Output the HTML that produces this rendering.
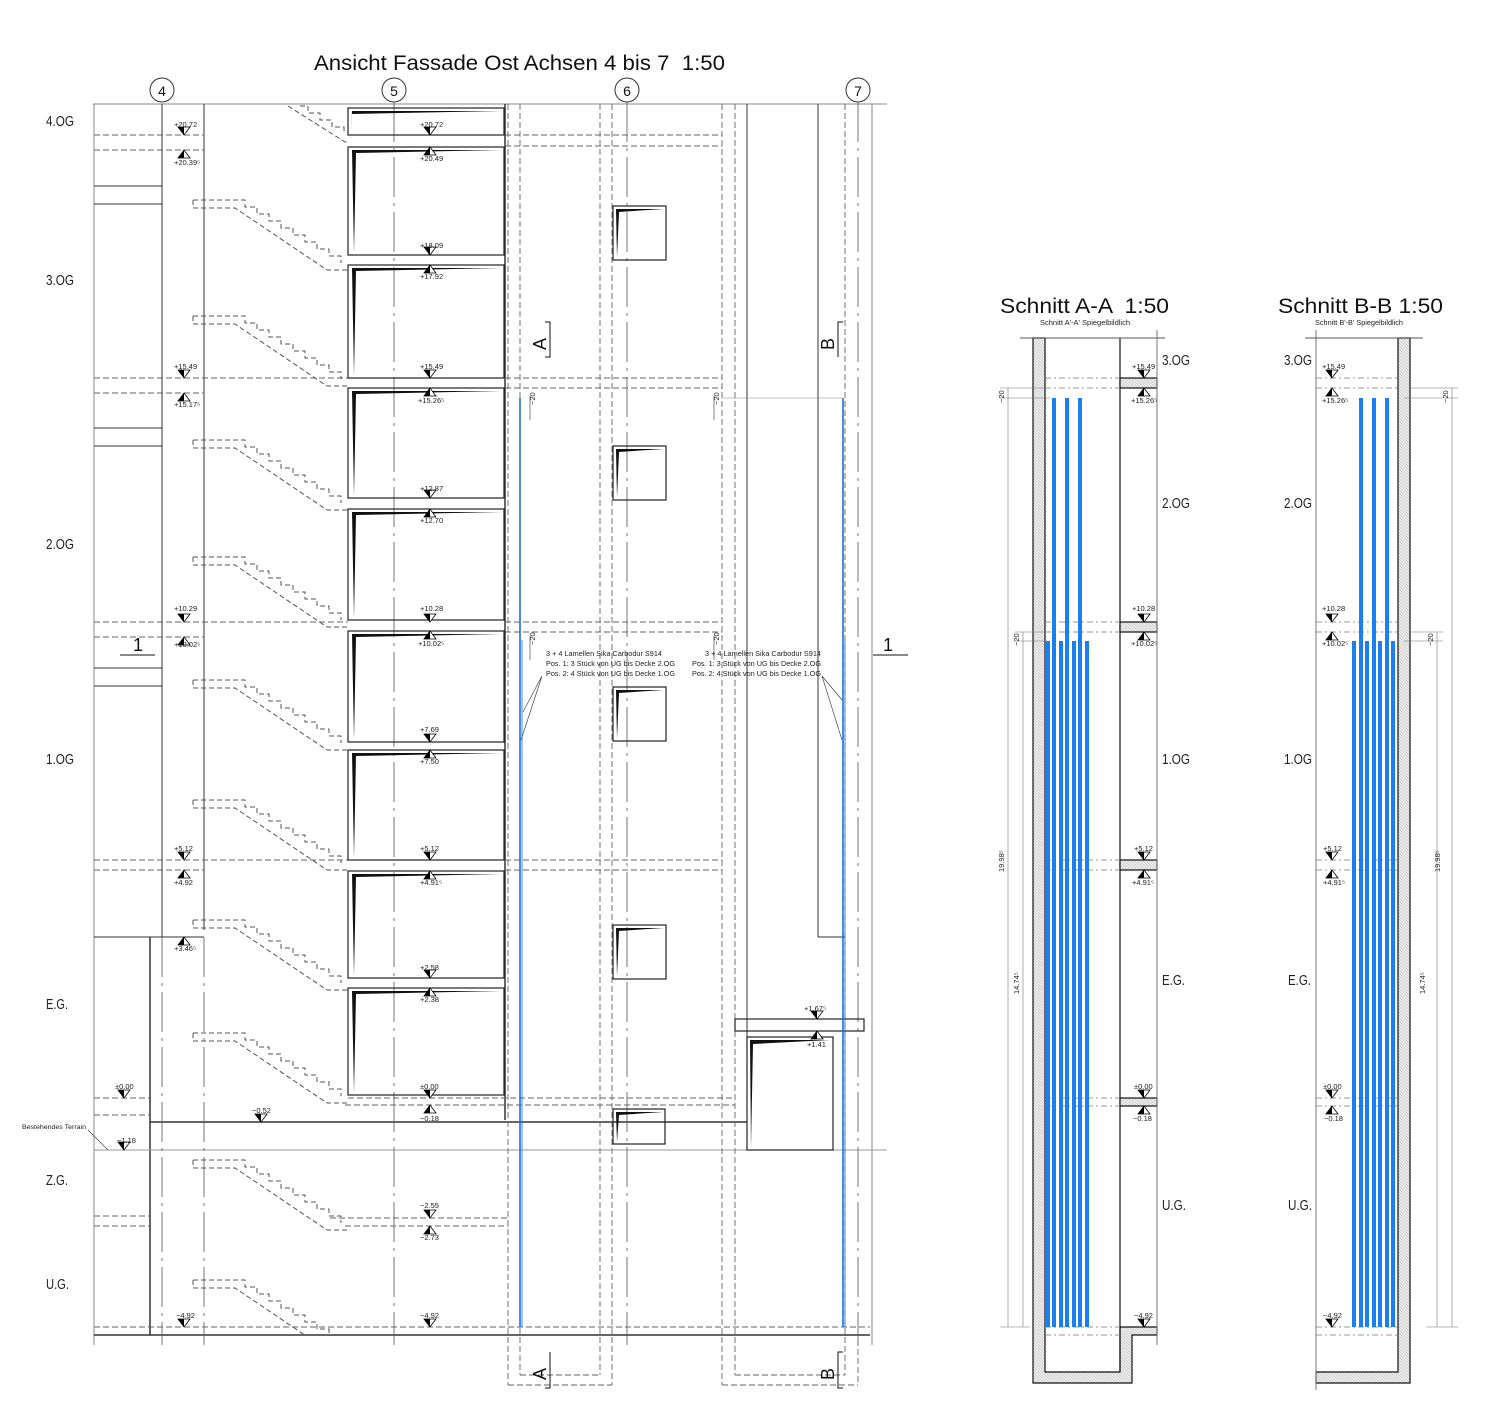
<!DOCTYPE html>
<html><head><meta charset="utf-8"><style>
html,body{margin:0;padding:0;background:#fff;}
svg{display:block;font-family:"Liberation Sans Narrow","Liberation Sans",sans-serif;}
.t{font-size:7.5px;fill:#222}
.fl{font-size:15px;fill:#222}
</style></head><body>
<svg width="1500" height="1422" viewBox="0 0 1500 1422" xmlns="http://www.w3.org/2000/svg">
<defs>
<g id="stair" fill="none" stroke="#555" stroke-width="1" stroke-dasharray="5,3">
<path d="M0,0 H52 v7 h12 v7 h12 v7 h12 v7 h12 v7 h12 v7 h12 v7 h12 v7 h12 v7"/>
<path d="M0,0 V8 H42 L134,70 H155"/>
</g>
<g id="dn"><polygon points="-6,-8 6,-8 0,0" fill="#fff" stroke="#000" stroke-width="0.8"/><polygon points="-6,-8 0,-8 0,0" fill="#000"/></g>
<g id="up"><polygon points="-6,8 6,8 0,0" fill="#fff" stroke="#000" stroke-width="0.8"/><polygon points="-6,8 0,8 0,0" fill="#000"/></g>
<pattern id="hat" width="3" height="3" patternUnits="userSpaceOnUse"><rect width="3" height="3" fill="#eee"/><path d="M0,0 L3,3" stroke="#bbb" stroke-width="0.6"/></pattern>
<clipPath id="cl"><rect x="0" y="0" width="1500" height="1334"/></clipPath>
</defs>

<!-- TITLES -->
<text x="314" y="70" font-family="Liberation Sans" font-size="21" fill="#111" textLength="411" lengthAdjust="spacingAndGlyphs" xml:space="preserve">Ansicht Fassade Ost Achsen 4 bis 7  1:50</text>
<text x="1000" y="313" font-family="Liberation Sans" font-size="21" fill="#111" textLength="169" lengthAdjust="spacingAndGlyphs" xml:space="preserve">Schnitt A-A  1:50</text>
<text x="1040" y="325" class="t" font-size="6" textLength="90" lengthAdjust="spacingAndGlyphs">Schnitt A'-A' Spiegelbildlich</text>
<text x="1278" y="313" font-family="Liberation Sans" font-size="21" fill="#111" textLength="165" lengthAdjust="spacingAndGlyphs">Schnitt B-B 1:50</text>
<text x="1315" y="325" class="t" font-size="6" textLength="88" lengthAdjust="spacingAndGlyphs">Schnitt B'-B' Spiegelbildlich</text>

<!-- axis circles -->
<g fill="#fff" stroke="#333" stroke-width="1">
<circle cx="162" cy="90" r="12"/><circle cx="394" cy="90" r="12"/><circle cx="627" cy="90" r="12"/><circle cx="858" cy="90" r="12"/>
</g>
<g font-family="Liberation Sans" font-size="14" fill="#111" text-anchor="middle">
<text x="162" y="96">4</text><text x="394" y="96">5</text><text x="627" y="96">6</text><text x="858" y="96">7</text>
</g>

<!-- floor labels -->
<g class="fl">
<text x="46" y="126" textLength="28" lengthAdjust="spacingAndGlyphs">4.OG</text><text x="46" y="285" textLength="28" lengthAdjust="spacingAndGlyphs">3.OG</text><text x="46" y="549" textLength="28" lengthAdjust="spacingAndGlyphs">2.OG</text><text x="46" y="764" textLength="28" lengthAdjust="spacingAndGlyphs">1.OG</text>
<text x="46" y="1009" textLength="22" lengthAdjust="spacingAndGlyphs">E.G.</text><text x="46" y="1185" textLength="22" lengthAdjust="spacingAndGlyphs">Z.G.</text><text x="46" y="1289" textLength="23" lengthAdjust="spacingAndGlyphs">U.G.</text>
</g>

<!-- main frame lines -->
<g stroke="#333" stroke-width="1" fill="none">
<line x1="93" y1="104" x2="887" y2="104" stroke="#888"/>
<line x1="94" y1="104" x2="94" y2="1345" stroke="#888"/>
<line x1="204" y1="104" x2="204" y2="930"/>
<line x1="150" y1="937" x2="150" y2="1335" stroke-width="1.5"/>
<line x1="162" y1="104" x2="162" y2="937"/>
<line x1="94" y1="186" x2="162" y2="186"/><line x1="94" y1="204" x2="162" y2="204"/>
<line x1="94" y1="428" x2="162" y2="428"/><line x1="94" y1="446" x2="162" y2="446"/>
<line x1="94" y1="668" x2="162" y2="668"/><line x1="94" y1="686" x2="162" y2="686"/>
<line x1="94" y1="937" x2="204" y2="937"/>
<line x1="505" y1="104" x2="505" y2="1120" stroke-width="1.5"/>
<line x1="747" y1="104" x2="747" y2="1150"/>
<line x1="818" y1="104" x2="818" y2="937"/><line x1="818" y1="937" x2="845" y2="937"/>
<line x1="872" y1="104" x2="872" y2="1345" stroke="#888"/>
<line x1="150" y1="1122" x2="747" y2="1122" stroke-width="1.5"/>
<line x1="94" y1="1150" x2="887" y2="1150" stroke="#999"/>
<line x1="94" y1="1335" x2="870" y2="1335" stroke-width="1.5"/>
</g>
<!-- axis dash-dot -->
<g stroke="#555" stroke-width="0.8" stroke-dasharray="40,6,3,6" fill="none">
<line x1="162" y1="937" x2="162" y2="1345"/>
<line x1="394" y1="102" x2="394" y2="1345"/>
<line x1="627" y1="102" x2="627" y2="1345"/>
<line x1="858" y1="102" x2="858" y2="1345"/>
<line x1="204" y1="937" x2="204" y2="1345"/>
</g>
<!-- dashed verticals -->
<g stroke="#666" stroke-width="0.9" stroke-dasharray="6,3" fill="none">
<line x1="508" y1="104" x2="508" y2="1385"/><line x1="520" y1="104" x2="520" y2="1375"/>
<line x1="600" y1="104" x2="600" y2="1375"/><line x1="612" y1="104" x2="612" y2="1385"/>
<line x1="722" y1="104" x2="722" y2="1385"/><line x1="735" y1="104" x2="735" y2="1375"/>
<line x1="845" y1="104" x2="845" y2="1375"/><line x1="858" y1="1340" x2="858" y2="1385"/>
<line x1="508" y1="1385" x2="612" y2="1385"/><line x1="520" y1="1375" x2="600" y2="1375"/>
<line x1="722" y1="1385" x2="858" y2="1385"/><line x1="735" y1="1375" x2="845" y2="1375"/>
</g>
<!-- dashed floor lines -->
<g stroke="#666" stroke-width="0.9" stroke-dasharray="6,3" fill="none">
<line x1="94" y1="135" x2="204" y2="135"/><line x1="94" y1="150" x2="204" y2="150"/>
<line x1="505" y1="135" x2="722" y2="135"/><line x1="505" y1="146" x2="722" y2="146"/>
<line x1="94" y1="378" x2="348" y2="378"/><line x1="94" y1="393" x2="204" y2="393"/>
<line x1="505" y1="378" x2="722" y2="378"/><line x1="505" y1="388" x2="722" y2="388"/>
<line x1="94" y1="622" x2="348" y2="622"/><line x1="94" y1="637" x2="204" y2="637"/>
<line x1="505" y1="622" x2="722" y2="622"/><line x1="505" y1="632" x2="722" y2="632"/>
<line x1="94" y1="860" x2="348" y2="860"/><line x1="94" y1="870" x2="204" y2="870"/>
<line x1="505" y1="860" x2="722" y2="860"/><line x1="505" y1="870" x2="722" y2="870"/>
<line x1="94" y1="1098" x2="150" y2="1098"/><line x1="94" y1="1115" x2="150" y2="1115"/>
<line x1="348" y1="1098" x2="735" y2="1098"/><line x1="345" y1="1105" x2="735" y2="1105"/>
<line x1="94" y1="1216" x2="150" y2="1216"/><line x1="94" y1="1226" x2="150" y2="1226"/>
<line x1="330" y1="1218" x2="508" y2="1218"/><line x1="345" y1="1226" x2="508" y2="1226"/>
<line x1="94" y1="1327" x2="870" y2="1327"/>
</g>
<!-- stairs -->
<g clip-path="url(#cl)">
<use href="#stair" x="193" y="200"/><use href="#stair" x="193" y="316"/><use href="#stair" x="193" y="440"/>
<use href="#stair" x="193" y="557"/><use href="#stair" x="193" y="680"/><use href="#stair" x="193" y="800"/>
<use href="#stair" x="193" y="920"/><use href="#stair" x="193" y="1033"/><use href="#stair" x="193" y="1160"/>
<use href="#stair" x="193" y="1280"/>
</g>
<g stroke="#555" stroke-width="1" stroke-dasharray="5,3" fill="none">
<path d="M288,106 L345,142 H348"/><path d="M300,106 h8 v7 h12 v7 h12 v7 h12 v7"/>
</g>

<!-- windows at axis 5 -->
<g fill="none" stroke="#222" stroke-width="1.2">
<rect x="348" y="108" width="156" height="27"/><rect x="348" y="147" width="156" height="108"/>
<rect x="348" y="265" width="156" height="113"/><rect x="348" y="388" width="156" height="110"/>
<rect x="348" y="509" width="156" height="111"/><rect x="348" y="631" width="156" height="111"/>
<rect x="348" y="750" width="156" height="110"/><rect x="348" y="871" width="156" height="107"/>
<rect x="348" y="988" width="156" height="107"/>
</g>
<g fill="#111">
<polygon points="352,111 502,111 352,114 351,133"/><polygon points="352,150 502,150 356,153 354,253"/>
<polygon points="352,268 502,268 356,271 354,376"/><polygon points="352,391 502,391 356,394 354,496"/>
<polygon points="352,512 502,512 356,515 354,618"/><polygon points="352,634 502,634 356,637 354,740"/>
<polygon points="352,753 502,753 356,756 354,858"/><polygon points="352,874 502,874 356,877 354,976"/>
<polygon points="352,991 502,991 356,994 354,1093"/>
</g>
<!-- windows at axis 6 -->
<g fill="none" stroke="#222" stroke-width="1.2">
<rect x="613" y="206" width="53" height="54"/><rect x="613" y="446" width="53" height="54"/>
<rect x="613" y="687" width="53" height="54"/><rect x="613" y="925" width="53" height="54"/>
<rect x="613" y="1109" width="52" height="35"/><rect x="747" y="1037" width="86" height="113"/>
<rect x="735" y="1019" width="129" height="12"/>
</g>
<g fill="#111">
<polygon points="616,209 664,209 619,212 617,258"/><polygon points="616,449 664,449 619,452 617,498"/>
<polygon points="616,690 664,690 619,693 617,739"/><polygon points="616,928 664,928 619,931 617,977"/>
<polygon points="616,1112 663,1112 619,1115 617,1142"/><polygon points="750,1040 830,1040 753,1044 751,1148"/>
</g>

<!-- blue lamellae -->
<g stroke="#1a6fe0" stroke-width="1.6">
<line x1="520" y1="398" x2="520" y2="1327"/><line x1="522" y1="640" x2="522" y2="1327" stroke-width="0.8"/>
<line x1="843" y1="398" x2="843" y2="1327"/><line x1="845" y1="640" x2="845" y2="1327" stroke-width="0.8"/>
</g>
<line x1="722" y1="398" x2="843" y2="398" stroke="#888" stroke-width="0.6"/>

<!-- section marks -->
<g stroke="#111" stroke-width="1" fill="none">
<path d="M545,322 H550 V357 H545"/><path d="M843,322 H838 V357"/>
<path d="M550,1352 V1388 H545"/><path d="M843,1352 H838 V1388 H843"/>
<path d="M120,655 H155"/><path d="M873,655 H908"/>
</g>
<g font-family="Liberation Sans" font-size="18" fill="#111">
<text transform="translate(546,350) rotate(-90)">A</text><text transform="translate(834,350) rotate(-90)">B</text>
<text transform="translate(546,1380) rotate(-90)">A</text><text transform="translate(834,1380) rotate(-90)">B</text>
<text x="133" y="651">1</text><text x="883" y="651">1</text>
</g>

<!-- note texts -->
<g class="t">
<text x="546" y="656" textLength="116" lengthAdjust="spacingAndGlyphs">3 + 4 Lamellen Sika Carbodur S914</text>
<text x="546" y="666" textLength="129" lengthAdjust="spacingAndGlyphs">Pos. 1:  3 Stück von UG bis Decke 2.OG</text>
<text x="546" y="676" textLength="129" lengthAdjust="spacingAndGlyphs">Pos. 2:  4 Stück von UG bis Decke 1.OG</text>
<text x="705" y="656" textLength="116" lengthAdjust="spacingAndGlyphs">3 + 4 Lamellen Sika Carbodur S914</text>
<text x="692" y="666" textLength="129" lengthAdjust="spacingAndGlyphs">Pos. 1:  3 Stück von UG bis Decke 2.OG</text>
<text x="692" y="676" textLength="129" lengthAdjust="spacingAndGlyphs">Pos. 2:  4 Stück von UG bis Decke 1.OG</text>
<text x="22" y="1129" font-size="6" textLength="64" lengthAdjust="spacingAndGlyphs">Bestehendes Terrain</text>
</g>
<g stroke="#333" stroke-width="0.6" fill="none">
<path d="M542,676 L523,712 M542,676 L521,740"/><path d="M822,676 L842,700 M822,676 L842,740"/>
<path d="M88,1130 L108,1150"/>
<path d="M530,396 V420 M714,396 V420 M530,636 V660 M714,636 V660"/>
</g>
<g class="t" font-size="7">
<text transform="translate(535,405) rotate(-90)">~20</text><text transform="translate(719,405) rotate(-90)">~20</text>
<text transform="translate(535,645) rotate(-90)">~20</text><text transform="translate(719,645) rotate(-90)">~20</text>
</g>

<!-- elevation markers main -->
<g>
<use href="#dn" x="184" y="135"/><use href="#up" x="184" y="150"/><use href="#dn" x="184" y="378"/><use href="#up" x="184" y="393"/>
<use href="#dn" x="184" y="622"/><use href="#up" x="184" y="637"/><use href="#dn" x="184" y="860"/><use href="#up" x="184" y="870"/>
<use href="#up" x="184" y="937"/><use href="#dn" x="124" y="1098"/><use href="#dn" x="124" y="1150"/><use href="#dn" x="261" y="1122"/>
<use href="#dn" x="184" y="1327"/>
<use href="#dn" x="430" y="135"/><use href="#up" x="430" y="147"/><use href="#dn" x="430" y="255"/><use href="#up" x="430" y="265"/>
<use href="#dn" x="430" y="378"/><use href="#up" x="430" y="388"/><use href="#dn" x="430" y="498"/><use href="#up" x="430" y="509"/>
<use href="#dn" x="430" y="622"/><use href="#up" x="430" y="631"/><use href="#dn" x="430" y="742"/><use href="#up" x="430" y="750"/>
<use href="#dn" x="430" y="860"/><use href="#up" x="430" y="871"/><use href="#dn" x="430" y="978"/><use href="#up" x="430" y="988"/>
<use href="#dn" x="430" y="1098"/><use href="#up" x="430" y="1105"/><use href="#dn" x="430" y="1218"/><use href="#up" x="430" y="1226"/>
<use href="#dn" x="430" y="1327"/><use href="#dn" x="817" y="1019"/><use href="#up" x="817" y="1031"/>
</g>
<g class="t">
<text x="174" y="127">+20.72</text><text x="174" y="165">+20.39⁵</text><text x="174" y="369">+15.49</text><text x="174" y="407">+15.17⁵</text>
<text x="174" y="611">+10.29</text><text x="174" y="647">+10.02⁵</text><text x="174" y="851">+5.12</text><text x="174" y="885">+4.92</text>
<text x="174" y="951">+3.46⁵</text><text x="115" y="1089">±0.00</text><text x="117" y="1143">−1.18</text><text x="252" y="1113">−0.52</text>
<text x="176" y="1318">−4.92</text>
<text x="420" y="127">+20.72</text><text x="420" y="161">+20.49</text><text x="420" y="248">+18.09</text><text x="420" y="279">+17.92</text>
<text x="420" y="369">+15.49</text><text x="418" y="403">+15.26⁵</text><text x="420" y="491">+12.87</text><text x="420" y="523">+12.70</text>
<text x="420" y="611">+10.28</text><text x="418" y="646">+10.02⁵</text><text x="420" y="732">+7.69</text><text x="420" y="764">+7.50</text>
<text x="420" y="851">+5.12</text><text x="420" y="885">+4.91⁵</text><text x="420" y="970">+2.58</text><text x="420" y="1002">+2.38</text>
<text x="420" y="1089">±0.00</text><text x="420" y="1121">−0.18</text><text x="420" y="1208">−2.55</text><text x="420" y="1240">−2.73</text>
<text x="420" y="1318">−4.92</text><text x="804" y="1011">+1.67⁵</text><text x="807" y="1047">+1.41</text>
</g>

<!-- SECTION A-A -->
<g stroke="#111" stroke-width="1.2">
<path d="M1033,338 V1383 H1132 V1335 H1157 V1327 H1120 V1372 H1045 V338 Z" fill="url(#hat)"/>
<line x1="1120" y1="338" x2="1120" y2="1372"/>
<rect x="1120" y="378" width="37" height="10" fill="url(#hat)"/><rect x="1120" y="622" width="37" height="10" fill="url(#hat)"/>
<rect x="1120" y="860" width="37" height="10" fill="url(#hat)"/><rect x="1120" y="1098" width="37" height="8" fill="url(#hat)"/>
</g>
<line x1="1020" y1="338" x2="1165" y2="338" stroke="#555"/>
<line x1="1157" y1="330" x2="1157" y2="1345" stroke="#777"/>
<g stroke="#777" stroke-width="0.7" stroke-dasharray="6,3,2,3">
<line x1="1045" y1="378" x2="1120" y2="378"/><line x1="1045" y1="388" x2="1120" y2="388"/>
<line x1="1045" y1="622" x2="1120" y2="622"/><line x1="1045" y1="632" x2="1120" y2="632"/>
<line x1="1045" y1="860" x2="1120" y2="860"/><line x1="1045" y1="870" x2="1120" y2="870"/>
<line x1="1045" y1="1098" x2="1120" y2="1098"/><line x1="1045" y1="1106" x2="1120" y2="1106"/>
<line x1="1045" y1="1327" x2="1120" y2="1327"/><line x1="1045" y1="1335" x2="1120" y2="1335"/>
</g>
<g fill="#1a7ff0">
<rect x="1052" y="398" width="4" height="929"/><rect x="1065" y="398" width="4" height="929"/><rect x="1078" y="398" width="4" height="929"/>
<rect x="1046" y="641" width="4" height="686"/><rect x="1059" y="641" width="4" height="686"/><rect x="1072" y="641" width="4" height="686"/><rect x="1085" y="641" width="4" height="686"/>
</g>
<g stroke="#777" stroke-width="0.6">
<line x1="1008" y1="388" x2="1008" y2="1327"/><line x1="1023" y1="632" x2="1023" y2="1327"/>
<line x1="1000" y1="388" x2="1045" y2="388"/><line x1="1000" y1="398" x2="1050" y2="398"/>
<line x1="1015" y1="632" x2="1045" y2="632"/><line x1="1015" y1="641" x2="1045" y2="641"/>
<line x1="1000" y1="1327" x2="1030" y2="1327"/>
</g>
<g class="t" font-size="7">
<text transform="translate(1004,403) rotate(-90)">~20</text><text transform="translate(1019,646) rotate(-90)">~20</text>
<text transform="translate(1004,872) rotate(-90)">19.98⁵</text><text transform="translate(1019,994) rotate(-90)">14.74⁵</text>
</g>
<g><use href="#dn" x="1144" y="378"/><use href="#up" x="1144" y="388"/><use href="#dn" x="1144" y="622"/><use href="#up" x="1144" y="632"/>
<use href="#dn" x="1144" y="860"/><use href="#up" x="1144" y="870"/><use href="#dn" x="1144" y="1098"/><use href="#up" x="1144" y="1106"/><use href="#dn" x="1144" y="1327"/></g>
<g class="t">
<text x="1132" y="369">+15.49</text><text x="1131" y="403">+15.26⁵</text><text x="1132" y="611">+10.28</text><text x="1131" y="646">+10.02⁵</text>
<text x="1134" y="851">+5.12</text><text x="1132" y="885">+4.91⁵</text><text x="1134" y="1089">±0.00</text><text x="1133" y="1121">−0.18</text><text x="1134" y="1318">−4.92</text>
</g>
<g class="fl" font-size="14">
<text x="1162" y="365" textLength="28" lengthAdjust="spacingAndGlyphs">3.OG</text><text x="1162" y="508" textLength="28" lengthAdjust="spacingAndGlyphs">2.OG</text><text x="1162" y="764" textLength="28" lengthAdjust="spacingAndGlyphs">1.OG</text><text x="1162" y="985" textLength="23" lengthAdjust="spacingAndGlyphs">E.G.</text><text x="1162" y="1210" textLength="24" lengthAdjust="spacingAndGlyphs">U.G.</text>
</g>

<!-- SECTION B-B -->
<g stroke="#111" stroke-width="1.2">
<path d="M1398,338 V1372 H1316 V1383 H1410 V338 Z" fill="url(#hat)"/>
</g>
<line x1="1316" y1="330" x2="1316" y2="1390" stroke="#777"/>
<line x1="1305" y1="338" x2="1423" y2="338" stroke="#555"/>
<g stroke="#777" stroke-width="0.7" stroke-dasharray="6,3,2,3">
<line x1="1316" y1="378" x2="1398" y2="378"/><line x1="1316" y1="388" x2="1398" y2="388"/>
<line x1="1316" y1="622" x2="1398" y2="622"/><line x1="1316" y1="632" x2="1398" y2="632"/>
<line x1="1316" y1="860" x2="1398" y2="860"/><line x1="1316" y1="870" x2="1398" y2="870"/>
<line x1="1316" y1="1098" x2="1398" y2="1098"/><line x1="1316" y1="1106" x2="1398" y2="1106"/>
<line x1="1316" y1="1327" x2="1398" y2="1327"/><line x1="1316" y1="1335" x2="1398" y2="1335"/>
</g>
<g fill="#1a7ff0">
<rect x="1359" y="398" width="4" height="929"/><rect x="1372" y="398" width="4" height="929"/><rect x="1385" y="398" width="4" height="929"/>
<rect x="1352" y="641" width="4" height="686"/><rect x="1365" y="641" width="4" height="686"/><rect x="1378" y="641" width="4" height="686"/><rect x="1391" y="641" width="4" height="686"/>
</g>
<g stroke="#777" stroke-width="0.6">
<line x1="1452" y1="388" x2="1452" y2="1327"/><line x1="1437" y1="632" x2="1437" y2="1327"/>
<line x1="1410" y1="388" x2="1458" y2="388"/><line x1="1404" y1="398" x2="1458" y2="398"/>
<line x1="1410" y1="632" x2="1443" y2="632"/><line x1="1404" y1="641" x2="1443" y2="641"/>
<line x1="1426" y1="1327" x2="1458" y2="1327"/>
</g>
<g class="t" font-size="7">
<text transform="translate(1448,403) rotate(-90)">~20</text><text transform="translate(1433,646) rotate(-90)">~20</text>
<text transform="translate(1440,872) rotate(-90)">19.98⁵</text><text transform="translate(1425,994) rotate(-90)">14.74⁵</text>
</g>
<g><use href="#dn" x="1332" y="378"/><use href="#up" x="1332" y="388"/><use href="#dn" x="1332" y="622"/><use href="#up" x="1332" y="632"/>
<use href="#dn" x="1332" y="860"/><use href="#up" x="1332" y="870"/><use href="#dn" x="1332" y="1098"/><use href="#up" x="1332" y="1106"/><use href="#dn" x="1332" y="1327"/></g>
<g class="t">
<text x="1322" y="369">+15.49</text><text x="1322" y="403">+15.26⁵</text><text x="1322" y="611">+10.28</text><text x="1322" y="646">+10.02⁵</text>
<text x="1323" y="851">+5.12</text><text x="1323" y="885">+4.91⁵</text><text x="1323" y="1089">±0.00</text><text x="1324" y="1121">−0.18</text><text x="1323" y="1318">−4.92</text>
</g>
<g class="fl" font-size="14">
<text x="1284" y="365" textLength="28" lengthAdjust="spacingAndGlyphs">3.OG</text><text x="1284" y="508" textLength="28" lengthAdjust="spacingAndGlyphs">2.OG</text><text x="1284" y="764" textLength="28" lengthAdjust="spacingAndGlyphs">1.OG</text><text x="1288" y="985" textLength="23" lengthAdjust="spacingAndGlyphs">E.G.</text><text x="1288" y="1210" textLength="24" lengthAdjust="spacingAndGlyphs">U.G.</text>
</g>
</svg>
</body></html>
